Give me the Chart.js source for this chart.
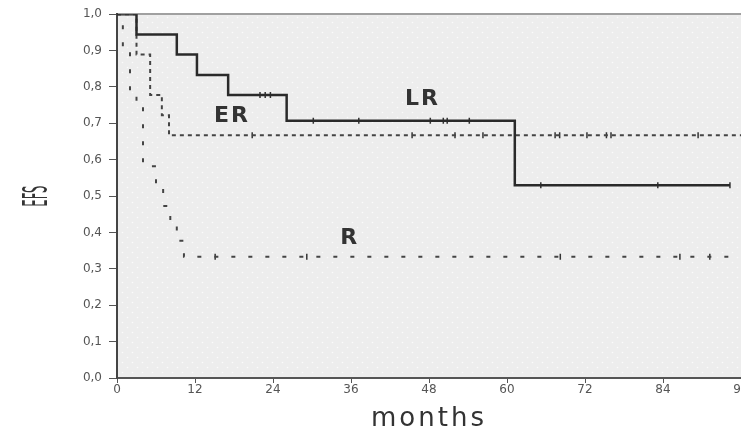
<!DOCTYPE html>
<html>
<head>
<meta charset="utf-8">
<script src="https://cdn.jsdelivr.net/npm/chart.js@4.4.1/dist/chart.umd.min.js"></script>
<style>
  html, body { margin: 0; padding: 0; background: #fff; overflow: hidden; }
  #wrap { width: 760px; height: 432px; }
</style>
</head>
<body>
<div id="wrap"><canvas id="kmChart" width="760" height="432"></canvas></div>
<script>
// Kaplan-Meier curves (months, EFS)
const lrTimes = [0, 3, 9.2, 12.3, 17.1, 26.1, 61.2, 94.3];
const lrSurv  = [1, 0.944, 0.889, 0.833, 0.778, 0.707, 0.530, 0.530];
const erTimes = [0, 3, 5.1, 6.9, 8, 96];
const erSurv  = [1, 0.889, 0.778, 0.722, 0.667, 0.667];
const rTimes  = [0, 0.9, 2, 3, 4, 6, 7.1, 8.2, 9.2, 10.3, 96];
const rSurv   = [1, 0.91, 0.785, 0.765, 0.582, 0.525, 0.473, 0.426, 0.377, 0.333, 0.333];

// censored observations
const lrCensTimes = [22, 22.8, 23.6, 30.2, 37.2, 48.2, 50.2, 50.8, 54.2, 65.2, 83.2, 94.3];
const lrCensSurv  = [0.778, 0.778, 0.778, 0.707, 0.707, 0.707, 0.707, 0.707, 0.707, 0.530, 0.530, 0.530];
const erCensTimes = [20.8, 45.4, 52, 56.3, 67.4, 68.1, 72.3, 75.3, 76.0, 89.4];
const erCensSurv  = [0.667, 0.667, 0.667, 0.667, 0.667, 0.667, 0.667, 0.667, 0.667, 0.667];
const rCensTimes  = [15.1, 29.2, 68.2, 86.6, 91.2];
const rCensSurv   = [0.333, 0.333, 0.333, 0.333, 0.333];

// curve names, anchored in data units
const curveNames = ['LR', 'ER', 'R'];
const nameMonths = [47, 17.7, 35.8];
const nameSurv   = [0.765, 0.72, 0.385];

const xTickLabels = ['0', '12', '24', '36', '48', '60', '72', '84', '96'];
const yTickLabels = ['0,0', '0,1', '0,2', '0,3', '0,4', '0,5', '0,6', '0,7', '0,8', '0,9', '1,0'];

const pts = (xs, ys) => xs.map((x, i) => ({ x: x, y: ys[i] }));

Chart.defaults.font.family = "'DejaVu Sans', sans-serif";

// dotted grey panel
const tile = document.createElement('canvas');
tile.width = 10; tile.height = 10;
const tctx = tile.getContext('2d');
tctx.fillStyle = '#ededed';
tctx.fillRect(0, 0, 10, 10);
tctx.fillStyle = '#fbfbfb';
tctx.beginPath(); tctx.arc(2.5, 2.5, 0.8, 0, Math.PI * 2); tctx.fill();
tctx.beginPath(); tctx.arc(7.5, 7.5, 0.8, 0, Math.PI * 2); tctx.fill();

const panelPlugin = {
    id: 'panel',
    beforeDraw(chart) {
        const a = chart.chartArea;
        const ctx = chart.ctx;
        ctx.save();
        ctx.fillStyle = ctx.createPattern(tile, 'repeat');
        ctx.fillRect(a.left, a.top, a.right - a.left, a.bottom - a.top);
        ctx.restore();

        // narrow "EFS" and spaced "months" like the original
        const y = chart.scales.y;
        if (y && !y._squeezed) {
            const orig = y.drawTitle;
            y.drawTitle = function () {
                const c = this.ctx, cy = (this.top + this.bottom) / 2;
                c.save();
                c.translate(0, cy); c.scale(1, 0.34); c.translate(0, -cy);
                orig.call(this);
                c.restore();
            };
            y._squeezed = true;
        }
        const x = chart.scales.x;
        if (x && !x._spaced) {
            const origX = x.drawTitle;
            x.drawTitle = function () {
                const c = this.ctx;
                c.save();
                c.letterSpacing = '3px';
                origX.call(this);
                c.restore();
            };
            x._spaced = true;
        }
    }
};

const namePlugin = {
    id: 'curveNames',
    afterDatasetsDraw(chart) {
        const ctx = chart.ctx;
        const xs = chart.scales.x, ys = chart.scales.y;
        ctx.save();
        ctx.font = "bold 22px 'DejaVu Sans'";
        ctx.letterSpacing = '2px';
        ctx.fillStyle = '#333';
        ctx.textAlign = 'center';
        ctx.textBaseline = 'middle';
        curveNames.forEach((n, i) => {
            ctx.fillText(n, xs.getPixelForValue(nameMonths[i]), ys.getPixelForValue(nameSurv[i]));
        });
        ctx.restore();
    }
};

const censorStyle = {
    type: 'scatter',
    showLine: false,
    pointStyle: 'line',
    rotation: 90,
    pointRadius: 3,
    pointBorderWidth: 1.5,
    pointBorderColor: '#333',
    pointBackgroundColor: '#333'
};

new Chart(document.getElementById('kmChart').getContext('2d'), {
    type: 'line',
    data: {
        datasets: [
            {
                label: 'LR',
                data: pts(lrTimes, lrSurv),
                stepped: true,
                borderColor: '#2a2a2a',
                borderWidth: 2.5,
                pointRadius: 0,
                fill: false
            },
            Object.assign({ label: 'LR censored', data: pts(lrCensTimes, lrCensSurv) }, censorStyle),
            {
                label: 'ER',
                data: pts(erTimes, erSurv),
                stepped: true,
                borderColor: '#444',
                borderWidth: 2,
                borderDash: [4, 4],
                pointRadius: 0,
                fill: false
            },
            Object.assign({ label: 'ER censored', data: pts(erCensTimes, erCensSurv) }, censorStyle),
            {
                label: 'R',
                data: pts(rTimes, rSurv),
                stepped: true,
                borderColor: '#444',
                borderWidth: 2,
                borderDash: [4, 13],
                pointRadius: 0,
                fill: false
            },
            Object.assign({ label: 'R censored', data: pts(rCensTimes, rCensSurv) }, censorStyle)
        ]
    },
    options: {
        responsive: false,
        animation: false,
        devicePixelRatio: 1,
        layout: { padding: { left: 0, right: 19, top: 0, bottom: 0 } },
        scales: {
            x: {
                type: 'linear',
                min: 0,
                max: 96,
                afterFit: (s) => { s.height = 54; },
                border: { color: '#555', width: 2 },
                grid: { drawOnChartArea: false, drawTicks: true, tickLength: 5, color: '#555' },
                ticks: {
                    stepSize: 12,
                    padding: 0,
                    color: '#555',
                    font: { size: 12 },
                    maxRotation: 0,
                    callback: (v, i) => xTickLabels[i]
                },
                title: {
                    display: true,
                    text: 'months',
                    color: '#333',
                    font: { size: 26, lineHeight: 1 },
                    padding: { top: 0, bottom: 0 }
                }
            },
            xTop: {
                type: 'linear',
                position: 'top',
                min: 0,
                max: 96,
                afterFit: (s) => { s.height = 12; },
                border: { color: '#a0a0a0', width: 2 },
                grid: { display: false, drawTicks: false },
                ticks: { display: false }
            },
            y: {
                min: 0,
                max: 1,
                afterFit: (s) => { s.width = 117; },
                border: { color: '#444', width: 2 },
                grid: { drawOnChartArea: false, drawTicks: true, tickLength: 8, color: '#555' },
                ticks: {
                    stepSize: 0.1,
                    padding: 7,
                    color: '#555',
                    font: { size: 12 },
                    callback: (v, i) => yTickLabels[i]
                },
                title: {
                    display: true,
                    text: 'EFS',
                    color: '#333',
                    font: { size: 34, lineHeight: 1 },
                    padding: { top: 21, bottom: 0 }
                }
            }
        },
        plugins: {
            legend: { display: false },
            tooltip: { enabled: false }
        }
    },
    plugins: [panelPlugin, namePlugin]
});
</script>
</body>
</html>
